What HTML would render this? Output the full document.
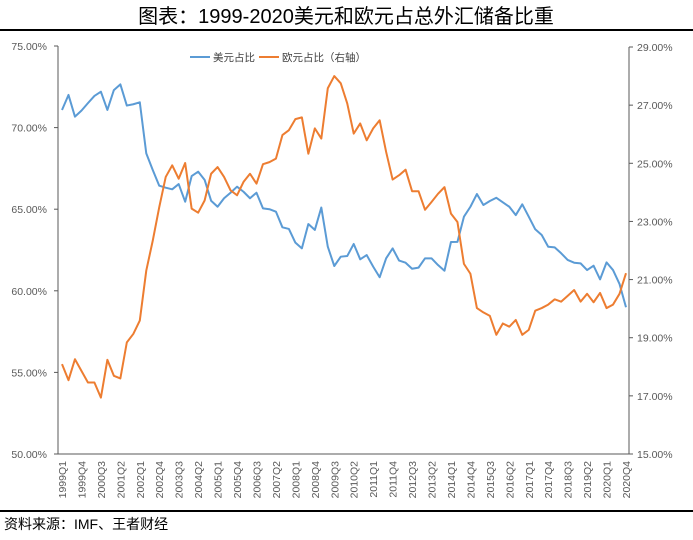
<!DOCTYPE html>
<html><head><meta charset="utf-8"><style>
body{margin:0;background:#fff;}
svg text{font-family:"Liberation Sans","Noto Sans CJK SC",sans-serif;}
</style></head><body>
<svg id="chart" width="693" height="535" xmlns="http://www.w3.org/2000/svg">
<text x="346" y="23" text-anchor="middle" font-size="20" fill="#000">图表：1999-2020美元和欧元占总外汇储备比重</text>
<line x1="0" y1="30" x2="693" y2="30" stroke="#000" stroke-width="2"/>
<line x1="0" y1="511" x2="693" y2="511" stroke="#000" stroke-width="2"/>
<text x="4" y="529" font-size="14" fill="#000">资料来源：IMF、王者财经</text>
<g>
<line x1="190" y1="57" x2="210" y2="57" stroke="#5b9bd5" stroke-width="2"/>
<text x="213" y="61" font-size="10.5" fill="#404040">美元占比</text>
<line x1="259" y1="57" x2="279" y2="57" stroke="#ed7d31" stroke-width="2"/>
<text x="282" y="61" font-size="10.5" fill="#404040">欧元占比（右轴）</text>
</g>
<g id="axes"></g>
<g id="series"></g>
</svg>
<script>
const leftTicks=[75,70,65,60,55,50];
const rightTicks=[29,27,25,23,21,19,17,15];
const usd=[71.08,72.0,70.67,71.04,71.5,71.94,72.2,71.08,72.3,72.65,71.35,71.43,71.55,68.42,67.4,66.44,66.32,66.22,66.54,65.46,67.03,67.3,66.8,65.52,65.15,65.67,66.01,66.38,66.07,65.67,66.01,65.05,65.0,64.85,63.89,63.79,62.95,62.6,64.09,63.73,65.1,62.7,61.52,62.09,62.13,62.87,61.93,62.19,61.48,60.83,61.99,62.6,61.85,61.72,61.35,61.42,61.99,61.99,61.58,61.23,62.99,63.0,64.54,65.15,65.93,65.26,65.5,65.7,65.42,65.15,64.64,65.3,64.54,63.77,63.42,62.7,62.66,62.3,61.89,61.72,61.68,61.27,61.54,60.7,61.74,61.27,60.42,58.99];
const eur=[18.09,17.54,18.26,17.86,17.46,17.46,16.94,18.24,17.69,17.6,18.84,19.13,19.59,21.31,22.34,23.49,24.53,24.93,24.47,25.01,23.44,23.3,23.72,24.64,24.87,24.53,24.07,23.9,24.36,24.64,24.3,24.97,25.04,25.16,25.97,26.14,26.52,26.58,25.33,26.2,25.85,27.58,28.0,27.75,27.06,26.02,26.37,25.79,26.2,26.48,25.39,24.44,24.59,24.78,24.04,24.04,23.4,23.67,23.95,24.18,23.27,22.98,21.54,21.2,20.02,19.87,19.75,19.1,19.49,19.38,19.61,19.1,19.27,19.93,20.02,20.14,20.32,20.24,20.44,20.64,20.24,20.51,20.22,20.54,20.02,20.14,20.51,21.22];
const categories=[];
for(let y=1999;y<=2020;y++)for(let q=1;q<=4;q++)categories.push(y+'Q'+q);

const NS='http://www.w3.org/2000/svg';
const X0=62,X1=626,YT=46,YB=454,RT=47;
const xs=i=>X0+(X1-X0)*i/(categories.length-1);
const yl=v=>YB-(v-50)/(75-50)*(YB-YT);
const yr=v=>YB-(v-15)/(29-15)*(YB-RT);
function mk(tag,attrs,parent){const e=document.createElementNS(NS,tag);for(const k in attrs)e.setAttribute(k,attrs[k]);parent.appendChild(e);return e;}
const axes=document.getElementById('axes'),series=document.getElementById('series');

let e=mk('line',{x1:58,y1:YT,x2:58,y2:YB,stroke:'#595959'},axes);


e=mk('line',{x1:629,y1:RT,x2:629,y2:YB,stroke:'#595959'},axes);


e=mk('line',{x1:58,y1:YB,x2:629,y2:YB,stroke:'#595959'},axes);



leftTicks.forEach(v=>{
  const y=yl(v);
  mk('line',{x1:54,y1:y,x2:58,y2:y,stroke:'#595959'},axes);
  const t=mk('text',{x:47,y:y+4,'text-anchor':'end','font-size':'10.5',fill:'#595959'},axes);
  t.textContent=v.toFixed(2)+'%';
  
  
});
rightTicks.forEach(v=>{
  const y=yr(v);
  mk('line',{x1:629,y1:y,x2:633,y2:y,stroke:'#595959'},axes);
  const t=mk('text',{x:637,y:y+4,'font-size':'10.5',fill:'#595959'},axes);
  t.textContent=v.toFixed(2)+'%';
  
  
});
categories.forEach((c,i)=>{
  if(i%3!==0)return;
  const x=xs(i);
  const t=mk('text',{x:0,y:0,'text-anchor':'end','font-size':'10.5',fill:'#595959',transform:`translate(${x+4},${YB+7}) rotate(-90)`},axes);
  t.textContent=c;
  
  
});
let p=mk('polyline',{points:usd.map((v,i)=>xs(i)+','+yl(v)).join(' '),fill:'none',stroke:'#5b9bd5','stroke-width':2,'stroke-linejoin':'round'},series);


p=mk('polyline',{points:eur.map((v,i)=>xs(i)+','+yr(v)).join(' '),fill:'none',stroke:'#ed7d31','stroke-width':2,'stroke-linejoin':'round'},series);


</script>
</body></html>
